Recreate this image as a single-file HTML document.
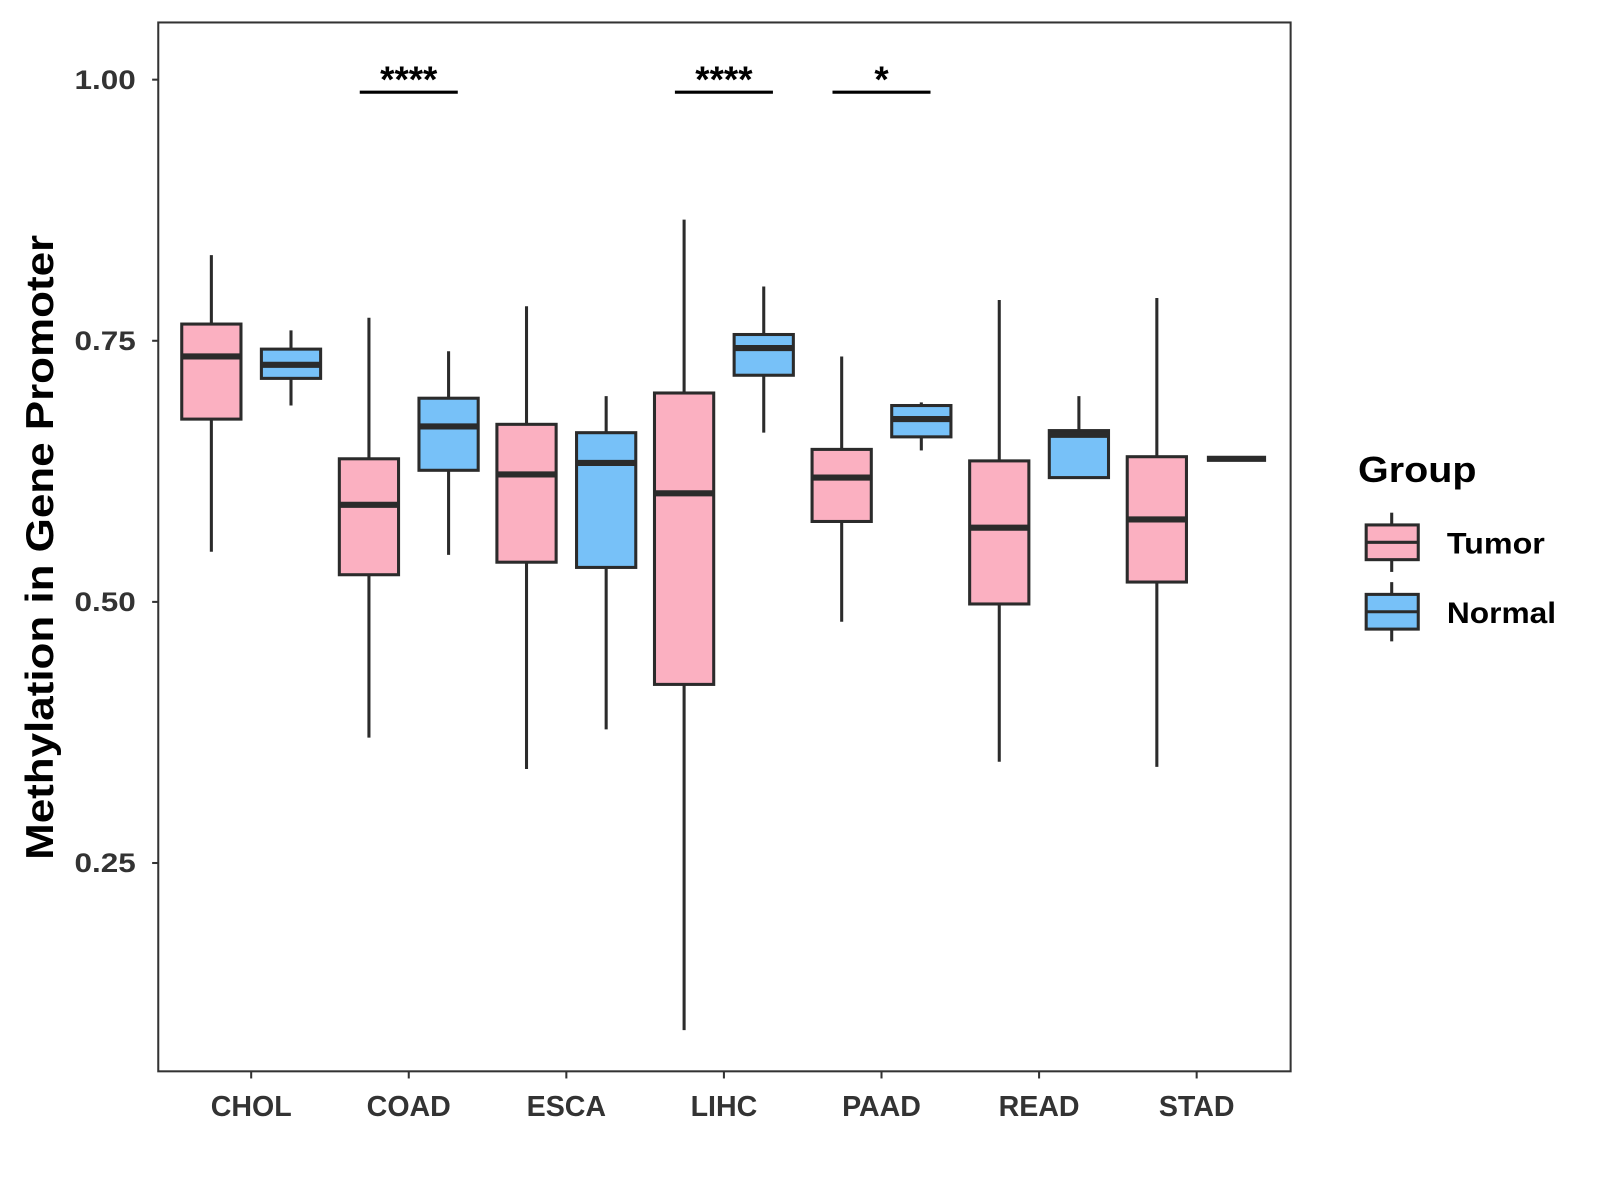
<!DOCTYPE html>
<html><head><meta charset="utf-8"><style>
html,body{margin:0;padding:0;background:#fff;}
svg{display:block;font-family:"Liberation Sans",Arial,sans-serif;}
</style></head><body>
<svg id="chart" width="1600" height="1200" viewBox="0 0 1567 1175" preserveAspectRatio="none" xmlns="http://www.w3.org/2000/svg">
<rect x="0" y="0" width="1567" height="1175" fill="#fff"/>
<rect x="155" y="22" width="1109" height="1027" fill="none" stroke="#333" stroke-width="2"/>
<g id="marks"></g>
<text transform="translate(52,536) rotate(-90)" text-anchor="middle" font-size="38" font-weight="bold" fill="#000" textLength="612" lengthAdjust="spacingAndGlyphs">Methylation in Gene Promoter</text>
<g>
<text x="1330" y="472" font-size="35" font-weight="bold" textLength="116" lengthAdjust="spacingAndGlyphs">Group</text>
<g>
<line x1="1363" y1="502" x2="1363" y2="560" stroke="#2b2b2b" stroke-width="3"/>
<rect x="1338" y="514" width="51" height="34" fill="#FBB0C1" stroke="#2b2b2b" stroke-width="3"/>
<line x1="1338" y1="531" x2="1389" y2="531" stroke="#2b2b2b" stroke-width="3"/>
<text x="1417" y="542" font-size="29" font-weight="bold" textLength="96" lengthAdjust="spacingAndGlyphs">Tumor</text></g>
<g>
<line x1="1363" y1="570" x2="1363" y2="628" stroke="#2b2b2b" stroke-width="3"/>
<rect x="1338" y="582" width="51" height="34" fill="#77C1F8" stroke="#2b2b2b" stroke-width="3"/>
<line x1="1338" y1="599" x2="1389" y2="599" stroke="#2b2b2b" stroke-width="3"/>
<text x="1417" y="610" font-size="29" font-weight="bold" textLength="107" lengthAdjust="spacingAndGlyphs">Normal</text></g>
</g>
</svg>
<script>
const categories = ["CHOL","COAD","ESCA","LIHC","PAAD","READ","STAD"];
// [low whisker, q1, median, q3, high whisker]
const tumorStats = [
 [0.548,0.675,0.735,0.766,0.832],
 [0.370,0.526,0.593,0.637,0.772],
 [0.340,0.538,0.622,0.670,0.783],
 [0.090,0.421,0.604,0.700,0.866],
 [0.481,0.577,0.619,0.646,0.735],
 [0.347,0.498,0.571,0.635,0.789],
 [0.342,0.519,0.579,0.639,0.791]];
const normalStats = [
 [0.688,0.714,0.727,0.742,0.760],
 [0.545,0.626,0.668,0.695,0.740],
 [0.378,0.533,0.633,0.662,0.697],
 [0.662,0.717,0.743,0.756,0.802],
 [0.645,0.658,0.675,0.688,0.691],
 [0.619,0.619,0.660,0.664,0.697],
 [0.637,0.637,0.637,0.637,0.637]];
const yTicks = [0.25,0.50,0.75,1.00];
const yTickLabels = ["0.25","0.50","0.75","1.00"];
const sigCategories = ["COAD","LIHC","PAAD"];
const sigLabels = ["****","****","*"];
const sigLevel = 0.988;

const NS="http://www.w3.org/2000/svg";
const g=document.getElementById('marks');
const y=v=>78+(1-v)*1022.7;
const x=i=>246+i*154.33;
function mk(tag,attrs,parent){const e=document.createElementNS(NS,tag);for(const k in attrs)e.setAttribute(k,attrs[k]);(parent||g).appendChild(e);return e;}
const stroke="#2b2b2b";
yTicks.forEach((t,i)=>{
 const tk=mk('line',{x1:149,x2:155,y1:y(t),y2:y(t),stroke:"#333","stroke-width":2});
 
 
 const lb=mk('text',{x:133,y:y(t)+9,"text-anchor":"end","font-size":26,"font-weight":"bold",fill:"#333",textLength:60,lengthAdjust:"spacingAndGlyphs"});
 lb.textContent=yTickLabels[i];
 
 
});
categories.forEach((c,i)=>{
 const tk=mk('line',{x1:x(i),x2:x(i),y1:1049,y2:1056,stroke:"#333","stroke-width":2});
 
 
 const lb=mk('text',{x:x(i),y:1093,"text-anchor":"middle","font-size":28,"font-weight":"bold",fill:"#333"});
 lb.textContent=c;
 
 
});
function box(cx,s,fill,name){
 const grp=mk('g',{});
 
 
 const w=29;
 mk('line',{x1:cx,x2:cx,y1:y(s[4]),y2:y(s[0]),stroke:stroke,"stroke-width":3},grp);
 mk('rect',{x:cx-w,y:y(s[3]),width:2*w,height:Math.max(0,y(s[1])-y(s[3])),fill:fill,stroke:stroke,"stroke-width":3},grp);
 mk('line',{x1:cx-w,x2:cx+w,y1:y(s[2]),y2:y(s[2]),stroke:stroke,"stroke-width":6},grp);
}
categories.forEach((c,i)=>{
 box(x(i)-39,tumorStats[i],"#FBB0C1","box-tumor-"+c.toLowerCase());
 box(x(i)+39,normalStats[i],"#77C1F8","box-normal-"+c.toLowerCase());
});
sigCategories.forEach((c,k)=>{
 const i=categories.indexOf(c);
 const l=mk('line',{x1:x(i)-48,x2:x(i)+48,y1:y(sigLevel),y2:y(sigLevel),stroke:"#000","stroke-width":3});
 
 
 const t=mk('text',{x:x(i),y:y(sigLevel)-0,"text-anchor":"middle","font-size":36,"font-weight":"bold",fill:"#000"});
 t.textContent=sigLabels[k];
 
 
});
</script>
</body></html>
